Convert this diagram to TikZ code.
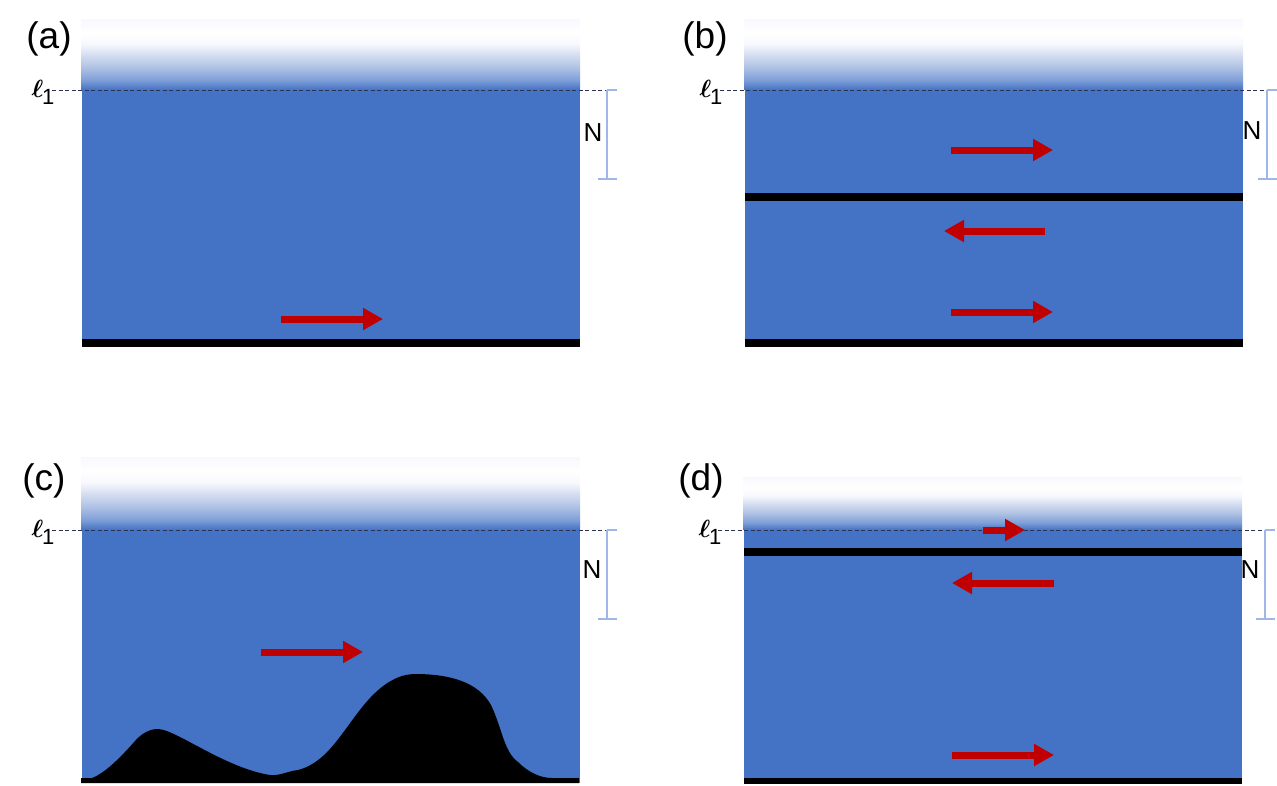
\documentclass[tikz,border=0pt]{standalone}
\usepackage{fontspec}
\setmainfont{Liberation Sans}
\usetikzlibrary{arrows.meta}
\usetikzlibrary{positioning}
\definecolor{water}{RGB}{68,114,196}
\definecolor{flowred}{RGB}{192,0,0}
\definecolor{scaleblue}{RGB}{160,182,230}
\definecolor{dashgrey}{RGB}{45,50,80}
\definecolor{fadeA}{RGB}{127,159,216}
\definecolor{fadeB}{RGB}{175,194,228}
\definecolor{fadeC}{RGB}{213,222,240}
\definecolor{fadeD}{RGB}{248,249,253}
\definecolor{fadeE}{RGB}{248,248,255}
\pgfdeclareverticalshading{fadeshade}{100bp}{color(0bp)=(water); color(25bp)=(water); color(32bp)=(fadeA); color(41bp)=(fadeB); color(50bp)=(fadeC); color(58bp)=(fadeD); color(66bp)=(white); color(75bp)=(fadeE); color(100bp)=(fadeE)}
\newcommand{\levtext}{{\fontsize{30}{30}\selectfont\boldmath$\ell$}\kern-1.5pt\raisebox{-7pt}{\fontsize{22}{22}\selectfont 1}}
\tikzset{
	fadebox/.style={shading=fadeshade,anchor=south west,inner sep=0pt,minimum width={499pt}},
	waterbox/.style={fill=water,inner sep=0pt,minimum width={498pt}},
	barbox/.style={fill=black,inner sep=0pt,minimum width={498pt}},
	flow/.style={flowred,line width=7pt,-{Triangle[length=20pt,width=21pt]}},
	level/.style={dashgrey,line width=1pt,dash pattern=on 4pt off 2.5pt},
	ruler/.style={scaleblue,line width=1.6pt},
	panel/.style={font=\fontsize{37}{37}\selectfont,inner sep=0pt},
	depth/.style={font=\fontsize{26}{26}\selectfont,inner sep=0pt},
	lev/.style={inner sep=0pt}
}
\begin{document}
\begin{tikzpicture}[x=1pt,y=-1pt]
	\useasboundingbox (0,0) rectangle (1277,785);

	% (a)
	\node[fadebox,minimum height={70pt}] (fadea) at (81,90) {};
	\node[waterbox,minimum height={257pt},below=0pt of fadea] (watera) {};
	\node[barbox,minimum height={8pt},anchor=south] (bara) at (watera.south) {};
	\node[panel] (taga) at (49,39) {(a)};
	\node[lev] (leva) at (43,92) {\levtext};
	\coordinate (leftA) at (52,90);
	\coordinate (topA) at (617,90);
	\coordinate (midA) at (607,90);
	\coordinate (lowA) at (607,179);
	\coordinate (lowAl) at (598,179);
	\coordinate (lowAr) at (617,179);
	\node[depth] (deptha) at (593,133) {N};
	\draw[level] (leftA) -- (midA);
	\draw[ruler] (midA) -- (topA);
	\draw[ruler] (midA) -- (lowA);
	\draw[ruler] (lowAl) -- (lowAr);
	\coordinate (a1s) at (281,319);
	\coordinate (a1e) at (383,319);
	\draw[flow] (a1s) -- (a1e);

	% (b)
	\node[fadebox,minimum height={70pt}] (fadeb) at (744,90) {};
	\node[waterbox,minimum height={257pt},below=0pt of fadeb] (waterb) {};
	\node[barbox,minimum height={8pt},anchor=south] (barb) at (waterb.south) {};
	\node[barbox,minimum height={8pt},above=138pt of barb] (barbmid) {};
	\node[panel] (tagb) at (705,39) {(b)};
	\node[lev] (levb) at (711,92) {\levtext};
	\coordinate (leftB) at (720,90);
	\coordinate (topB) at (1277,90);
	\coordinate (midB) at (1267,90);
	\coordinate (lowB) at (1267,179);
	\coordinate (lowBl) at (1258,179);
	\coordinate (lowBr) at (1277,179);
	\node[depth] (depthb) at (1252,131) {N};
	\draw[level] (leftB) -- (midB);
	\draw[ruler] (midB) -- (topB);
	\draw[ruler] (midB) -- (lowB);
	\draw[ruler] (lowBl) -- (lowBr);
	\coordinate (b1s) at (951,150);
	\coordinate (b1e) at (1053,150);
	\coordinate (b2s) at (1045,231);
	\coordinate (b2e) at (944,231);
	\coordinate (b3s) at (951,312);
	\coordinate (b3e) at (1053,312);
	\draw[flow] (b1s) -- (b1e);
	\draw[flow] (b2s) -- (b2e);
	\draw[flow] (b3s) -- (b3e);

	% (c)
	\node[fadebox,minimum height={72pt}] (fadec) at (81,530) {};
	\node[waterbox,minimum height={253pt},below=0pt of fadec] (waterc) {};
	\fill[black] (81,783) -- (81,778) -- (92,778)
		.. controls (105,773) and (120,758) .. (135,741)
		.. controls (142,733) and (150,729) .. (158,729)
		.. controls (175,729) and (225,768) .. (270,775)
		.. controls (280,776) and (288,771) .. (298,770)
		.. controls (330,762) and (345,725) .. (370,698)
		.. controls (385,682) and (400,674) .. (415,674)
		.. controls (450,674) and (478,682) .. (491,705)
		.. controls (502,728) and (504,752) .. (518,762)
		.. controls (528,772) and (540,778) .. (552,778)
		-- (579,778) -- (579,783) -- cycle;
	\node[panel] (tagc) at (44,481) {(c)};
	\node[lev] (levc) at (43,532) {\levtext};
	\coordinate (leftC) at (52,530);
	\coordinate (topC) at (617,530);
	\coordinate (midC) at (607,530);
	\coordinate (lowC) at (607,619);
	\coordinate (lowCl) at (598,619);
	\coordinate (lowCr) at (617,619);
	\node[depth] (depthc) at (592,570) {N};
	\draw[level] (leftC) -- (midC);
	\draw[ruler] (midC) -- (topC);
	\draw[ruler] (midC) -- (lowC);
	\draw[ruler] (lowCl) -- (lowCr);
	\coordinate (c1s) at (261,652);
	\coordinate (c1e) at (363,652);
	\draw[flow] (c1s) -- (c1e);

	% (d)
	\node[fadebox,minimum height={52pt}] (faded) at (743,530) {};
	\node[waterbox,minimum height={254pt},below=0pt of faded] (waterd) {};
	\node[barbox,minimum height={6pt},anchor=south] (bard) at (waterd.south) {};
	\node[barbox,minimum height={8pt},anchor=north] (bardtop) at ([yshift=-18pt]faded.south) {};
	\node[panel] (tagd) at (701,481) {(d)};
	\node[lev] (levd) at (710,532) {\levtext};
	\coordinate (leftD) at (718,530);
	\coordinate (topD) at (1275,530);
	\coordinate (midD) at (1265,530);
	\coordinate (lowD) at (1265,619);
	\coordinate (lowDl) at (1256,619);
	\coordinate (lowDr) at (1275,619);
	\node[depth] (depthd) at (1250,570) {N};
	\draw[level] (leftD) -- (midD);
	\draw[ruler] (midD) -- (topD);
	\draw[ruler] (midD) -- (lowD);
	\draw[ruler] (lowDl) -- (lowDr);
	\coordinate (d1s) at (983,530);
	\coordinate (d1e) at (1025,530);
	\coordinate (d2s) at (1054,583);
	\coordinate (d2e) at (952,583);
	\coordinate (d3s) at (952,755);
	\coordinate (d3e) at (1054,755);
	\draw[flow] (d1s) -- (d1e);
	\draw[flow] (d2s) -- (d2e);
	\draw[flow] (d3s) -- (d3e);

\end{tikzpicture}
\end{document}
